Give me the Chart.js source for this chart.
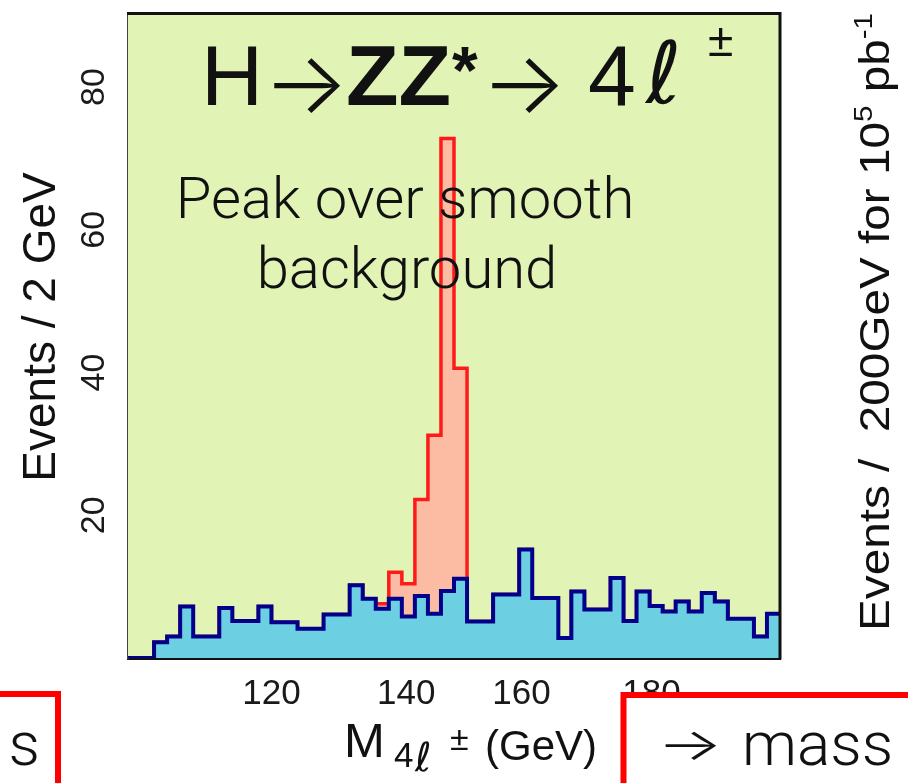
<!DOCTYPE html>
<html>
<head>
<meta charset="utf-8">
<script src="https://cdn.jsdelivr.net/npm/chart.js@4.4.1/dist/chart.umd.min.js"></script>
<style>
html,body{margin:0;padding:0;background:#ffffff;}
#wrap{position:relative;width:908px;height:783px;overflow:hidden;}
</style>
</head>
<body>
<div id="wrap"><canvas id="c" width="908" height="783"></canvas></div>
<script>
// ---------------- data ----------------
const massMin = 99.4;          // GeV, lower edge of first bin
const massMax = 199.8;         // GeV, upper edge of last bin
const binWidth = 2.008;        // GeV per bin ("2 GeV")
// background events per bin, 50 bins
const backgroundCounts = [0,0,2.2,3.0,7.2,3.0,3.0,7.0,5.2,5.2,
                          7.2,5.0,5.0,4.1,4.1,6.1,6.1,10.2,8.3,6.9,
                          8.3,5.8,8.7,6.2,9.4,11.1,5.1,5.1,8.9,8.9,
                          15.2,8.4,8.4,2.8,9.3,6.8,6.8,11.2,5.2,9.3,
                          7.3,6.5,7.9,6.5,9.1,7.9,5.5,5.5,3.0,6.2];
// Higgs signal events per bin (stacked on background)
const signalCounts =     [0,0,0,0,0,0,0,0,0,0,
                          0,0,0,0,0,0,0,0,0,0.7,
                          3.7,4.6,13.5,25.0,63.4,29.5,0,0,0,0,
                          0,0,0,0,0,0,0,0,0,0,
                          0,0,0,0,0,0,0,0,0,0];
const yTickValues = [10,20,30,40,50,60,70,80];
const yTickLabels = {20:'20',40:'40',60:'60',80:'80'};
const xTickValues = [110,120,130,140,150,160,170,180,190];
const xTickLabels = {120:'120',140:'140',160:'160',180:'180'};
const xLabelShift = {120:2,140:3};   // leading spaces (label drawn slightly right of tick)

// ---------------- build histogram points ----------------
function histPoints(counts){
  const pts = counts.map((v,i)=>({x: massMin + i*binWidth, y: v}));
  pts.push({x: massMin + counts.length*binWidth, y: counts[counts.length-1]});
  return pts;
}
const totalCounts = backgroundCounts.map((b,i)=>b + signalCounts[i]);

const PLOT_FONT = "'Liberation Sans', Arial, Helvetica, sans-serif";
const SLIDE_FONT = "Roboto, 'Liberation Sans', Arial, sans-serif";
const ARROW_FONT = "Inter, 'DejaVu Sans', sans-serif";

const bgPlugin = {
  id:'plotBg',
  beforeDatasetsDraw(chart){
    const {ctx, chartArea:a} = chart;
    ctx.save();
    ctx.fillStyle = '#e2f3b6';
    ctx.fillRect(a.left, a.top, a.right-a.left, a.bottom-a.top);
    ctx.restore();
  }
};

function runs(ctx, x, y, parts){
  let cx = x;
  for (const p of parts){
    ctx.font = p.font;
    ctx.fillText(p.text, cx, y + (p.dy||0));
    cx += ctx.measureText(p.text).width + (p.gap||0);
  }
  return cx - x;
}
function runsWidth(ctx, parts){
  let w = 0;
  for (const p of parts){ ctx.font = p.font; w += ctx.measureText(p.text).width + (p.gap||0); }
  return w;
}
// draw a glyph so that its advance width fills w pixels
function fitText(ctx, text, font, x, y, w){
  ctx.save();
  ctx.font = font;
  const m = ctx.measureText(text).width;
  ctx.translate(x, y);
  ctx.scale(w / m, 1);
  ctx.textAlign = 'left';
  ctx.fillText(text, 0, 0);
  ctx.restore();
}

const decorPlugin = {
  id:'decor',
  afterDraw(chart){
    const {ctx, chartArea:a} = chart;
    ctx.save();
    // frame top and right
    ctx.strokeStyle = '#111';
    ctx.lineWidth = 3;
    ctx.beginPath();
    ctx.moveTo(a.left-1, a.top); ctx.lineTo(a.right, a.top); ctx.lineTo(a.right, a.bottom+1.5);
    ctx.stroke();

    ctx.fillStyle = '#111';
    ctx.textAlign = 'left';
    ctx.textBaseline = 'alphabetic';
    // title H -> ZZ* -> 4 l +-
    ctx.font = '86px ' + PLOT_FONT; ctx.fillText('H', 201, 105);
    fitText(ctx, '\u2192', '300 86px ' + ARROW_FONT, 263, 113, 86);
    ctx.font = 'bold 86px ' + PLOT_FONT; ctx.fillText('ZZ', 346, 105);
    ctx.font = 'bold 66px ' + PLOT_FONT; ctx.fillText('*', 452, 93);
    fitText(ctx, '\u2192', '300 86px ' + ARROW_FONT, 481, 113, 86);
    ctx.font = '86px ' + PLOT_FONT; ctx.fillText('4', 588, 105);
    ctx.font = 'italic 86px "DejaVu Sans", sans-serif'; ctx.fillText('\u2113', 646, 103);
    ctx.font = '46px ' + PLOT_FONT; ctx.fillText('\u00B1', 708, 56);

    // annotation
    ctx.textAlign = 'center';
    ctx.font = '300 58px ' + SLIDE_FONT;
    ctx.fillText('Peak over smooth', 405, 218);
    ctx.fillText('background', 407, 288);

    // y axis title
    ctx.save();
    ctx.translate(55, 327);
    ctx.rotate(-Math.PI/2);
    ctx.textAlign = 'center';
    ctx.font = '46px ' + PLOT_FONT;
    ctx.fillText('Events / 2 GeV', 0, 0);
    ctx.restore();

    // right-side rotated label (neighbouring plot)
    ctx.save();
    ctx.translate(889, 322);
    ctx.rotate(-Math.PI/2);
    ctx.textAlign = 'left';
    const rf = '42px ' + PLOT_FONT, rs = '26px ' + PLOT_FONT;
    const rparts = [
      {text:'Events /  200GeV for 10', font:rf},
      {text:'5', font:rs, dy:-17},
      {text:' pb', font:rf},
      {text:'-1', font:rs, dy:-17}
    ];
    const rw = runsWidth(ctx, rparts);
    const sx = 618 / rw;
    ctx.scale(sx, 1);
    runs(ctx, -rw/2, 0, rparts);
    ctx.restore();

    // x axis title  M_{4l}^{+-} (GeV)
    ctx.textAlign = 'left';
    ctx.font = '49px ' + PLOT_FONT; ctx.fillText('M', 344, 757);
    ctx.font = '35px ' + PLOT_FONT; ctx.fillText('4', 394, 767);
    ctx.font = 'italic 40px "DejaVu Sans", sans-serif'; ctx.fillText('\u2113', 415, 771);
    ctx.font = '34px ' + PLOT_FONT; ctx.fillText('\u00B1', 450, 750);
    ctx.font = '42px ' + PLOT_FONT; ctx.fillText('(GeV)', 485, 760);

    // red boxes of the slide
    ctx.lineWidth = 6;
    ctx.strokeStyle = '#ff0000';
    ctx.fillStyle = '#ffffff';
    ctx.fillRect(-10, 694, 68, 120);
    ctx.strokeRect(-10, 694, 68, 120);
    ctx.fillRect(623.5, 695, 320, 120);
    ctx.strokeRect(623.5, 695, 320, 120);
    ctx.fillStyle = '#111';
    ctx.font = '300 62px ' + SLIDE_FONT;
    ctx.textAlign = 'right';
    ctx.fillText('s', 40, 765);
    ctx.textAlign = 'left';
    fitText(ctx, '\u2192', '300 44px ' + ARROW_FONT, 657, 760, 66);
    ctx.font = '300 62px ' + SLIDE_FONT;
    ctx.fillText('mass', 742, 765);
    ctx.restore();
  }
};

new Chart(document.getElementById('c'), {
  type: 'line',
  data: {
    datasets: [
      {
        label: 'Background',
        data: histPoints(backgroundCounts),
        stepped: 'before',
        borderColor: '#00008b',
        borderWidth: 4,
        borderJoinStyle: 'miter',
        backgroundColor: '#6cd0e2',
        fill: 'origin',
        pointRadius: 0,
        order: 0
      },
      {
        label: 'Signal + background',
        data: histPoints(totalCounts),
        stepped: 'before',
        borderColor: '#ff1a1a',
        borderWidth: 3.5,
        borderJoinStyle: 'miter',
        backgroundColor: '#fcbca4',
        fill: 'origin',
        pointRadius: 0,
        order: 1
      }
    ]
  },
  options: {
    responsive: false,
    animation: false,
    events: [],
    layout: { padding: { left: 0, right: 128, top: 13.5, bottom: 0 } },
    plugins: { legend: { display: false }, tooltip: { enabled: false }, title: { display: false } },
    scales: {
      x: {
        type: 'linear',
        min: massMin,
        max: massMax,
        z: 1,
        afterBuildTicks: s => { s.ticks = xTickValues.map(v => ({ value: v })); },
        afterFit: s => { s.height = 125; s.paddingLeft = 0; s.paddingRight = 0; },
        grid: { drawOnChartArea: false, drawTicks: true, tickLength: -13, color: '#222', lineWidth: 2 },
        border: { display: true, color: '#111', width: 3 },
        ticks: {
          autoSkip: false, maxRotation: 0, minRotation: 0, padding: 28,
          color: '#1a1a1a',
          font: { family: PLOT_FONT, size: 35 },
          callback: v => xTickLabels[v] ? ' '.repeat(xLabelShift[v] || 0) + xTickLabels[v] : ''
        },
        title: { display: false }
      },
      y: {
        type: 'linear',
        min: 0,
        max: 90.3,
        z: 1,
        afterBuildTicks: s => { s.ticks = yTickValues.map(v => ({ value: v })); },
        afterFit: s => { s.width = 128; s.paddingTop = 0; s.paddingBottom = 0; },
        grid: { drawOnChartArea: false, drawTicks: true, tickLength: -20, color: '#333', lineWidth: 2 },
        border: { display: true, color: '#444', width: 2 },
        ticks: {
          autoSkip: false, minRotation: 90, maxRotation: 90, crossAlign: 'center', padding: 34,
          color: '#1a1a1a',
          font: { family: PLOT_FONT, size: 34 },
          callback: v => yTickLabels[v] || ''
        },
        title: { display: false }
      }
    }
  },
  plugins: [bgPlugin, decorPlugin]
});
</script>
</body>
</html>
